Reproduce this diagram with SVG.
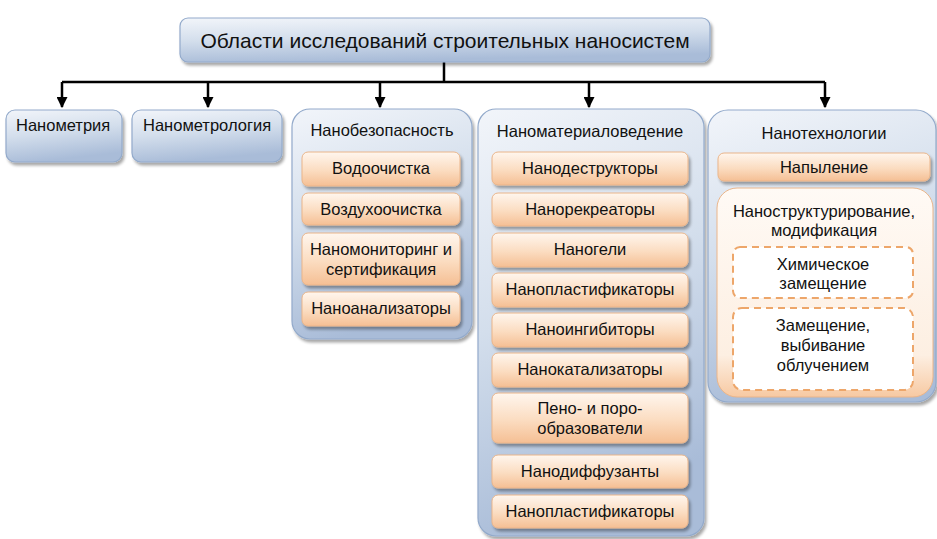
<svg xmlns="http://www.w3.org/2000/svg" width="937" height="539" viewBox="0 0 937 539">
<defs>
<linearGradient id="gb" x1="0" y1="0" x2="0.25" y2="1">
<stop offset="0" stop-color="#f2f5fa"/>
<stop offset="0.5" stop-color="#d3deec"/>
<stop offset="1" stop-color="#a9bcd8"/>
</linearGradient>
<linearGradient id="go" x1="0" y1="0" x2="0" y2="1">
<stop offset="0" stop-color="#fff6ee"/>
<stop offset="0.55" stop-color="#fbdcc0"/>
<stop offset="1" stop-color="#f5bf94"/>
</linearGradient>
<linearGradient id="gw" x1="0" y1="0" x2="0" y2="1">
<stop offset="0" stop-color="#fffaf5"/>
<stop offset="0.8" stop-color="#fdefe2"/>
<stop offset="1" stop-color="#f7c9a2"/>
</linearGradient>
<filter id="sh" x="-10%" y="-10%" width="130%" height="130%">
<feGaussianBlur in="SourceAlpha" stdDeviation="1.5"/>
<feOffset dx="1.5" dy="2.5" result="b"/>
<feComponentTransfer><feFuncA type="linear" slope="0.35"/></feComponentTransfer>
<feMerge><feMergeNode/><feMergeNode in="SourceGraphic"/></feMerge>
</filter>
<marker id="ar" viewBox="0 0 10 10" refX="9" refY="5" markerWidth="11" markerHeight="11" markerUnits="userSpaceOnUse" orient="auto">
<path d="M0,0 L10,5 L0,10 z" fill="#000"/>
</marker>
</defs>
<style>
.b{fill:url(#gb);stroke:#93aacb;stroke-width:1.2;filter:url(#sh)}
.o{fill:url(#go);stroke:#eab58a;stroke-width:1;filter:url(#sh)}
.w{fill:url(#gw);stroke:#eab58a;stroke-width:1}
.d{fill:#fff;stroke:#eda66a;stroke-width:2;stroke-dasharray:7,5}
text{font-family:"Liberation Sans",Arial,sans-serif;font-size:16.5px;fill:#111}
.c{text-anchor:middle}
.t{font-size:21px}
.ln{stroke:#000;stroke-width:2.5;fill:none}
</style>
<rect width="937" height="539" fill="#fff"/>
<g id="connectors">
<path class="ln" d="M444,62 V82 M62,82 H825"/>
<path class="ln" d="M62,82 V107" marker-end="url(#ar)"/>
<path class="ln" d="M208,82 V107" marker-end="url(#ar)"/>
<path class="ln" d="M380,82 V107" marker-end="url(#ar)"/>
<path class="ln" d="M589,82 V107" marker-end="url(#ar)"/>
<path class="ln" d="M825,82 V107" marker-end="url(#ar)"/>
</g>
<g id="root">
<rect class="b" x="180" y="18" width="530" height="44" rx="8"/>
<text class="c t" x="445" y="48">Области исследований строительных наносистем</text>
</g>
<g id="n1">
<rect class="b" x="6" y="110" width="116" height="52" rx="9"/>
<text x="16" y="131">Нанометрия</text>
</g>
<g id="n2">
<rect class="b" x="132" y="110" width="150" height="52" rx="9"/>
<text x="143" y="131">Нанометрология</text>
</g>
<g id="n3">
<rect class="b" x="292" y="109" width="180" height="230" rx="18"/>
<text class="c" x="382" y="136">Нанобезопасность</text>
<g id="n3a"><rect class="o" x="302" y="152" width="158" height="34" rx="6"/><text class="c" x="381" y="174">Водоочистка</text></g>
<g id="n3b"><rect class="o" x="302" y="193" width="158" height="32" rx="6"/><text class="c" x="381" y="215">Воздухоочистка</text></g>
<g id="n3c"><rect class="o" x="302" y="233" width="158" height="52" rx="6"/><text class="c" x="381" y="255">Наномониторинг и</text><text class="c" x="381" y="275">сертификация</text></g>
<g id="n3d"><rect class="o" x="302" y="292" width="158" height="34" rx="6"/><text class="c" x="381" y="314">Наноанализаторы</text></g>
</g>
<g id="n4">
<rect class="b" x="478" y="109" width="226" height="427" rx="18"/>
<text class="c" x="590" y="137">Наноматериаловедение</text>
<g id="n4a"><rect class="o" x="492" y="152" width="196" height="33" rx="6"/><text class="c" x="590" y="174">Нанодеструкторы</text></g>
<g id="n4b"><rect class="o" x="492" y="193" width="196" height="33" rx="6"/><text class="c" x="590" y="215">Нанорекреаторы</text></g>
<g id="n4c"><rect class="o" x="492" y="233" width="196" height="34" rx="6"/><text class="c" x="590" y="255">Наногели</text></g>
<g id="n4d"><rect class="o" x="492" y="273" width="196" height="34" rx="6"/><text class="c" x="590" y="295">Нанопластификаторы</text></g>
<g id="n4e"><rect class="o" x="492" y="313" width="196" height="34" rx="6"/><text class="c" x="590" y="335">Наноингибиторы</text></g>
<g id="n4f"><rect class="o" x="492" y="353" width="196" height="34" rx="6"/><text class="c" x="590" y="375">Нанокатализаторы</text></g>
<g id="n4g"><rect class="o" x="492" y="393" width="196" height="50" rx="6"/><text class="c" x="590" y="414">Пено- и поро-</text><text class="c" x="590" y="434">образователи</text></g>
<g id="n4h"><rect class="o" x="492" y="455" width="196" height="33" rx="6"/><text class="c" x="590" y="477">Нанодиффузанты</text></g>
<g id="n4i"><rect class="o" x="492" y="495" width="196" height="33" rx="6"/><text class="c" x="590" y="517">Нанопластификаторы</text></g>
</g>
<g id="n5">
<rect class="b" x="708" y="110" width="228" height="292" rx="20"/>
<text class="c" x="824" y="139">Нанотехнологии</text>
<g id="n5a"><rect class="o" x="718" y="153" width="212" height="28" rx="6"/><text class="c" x="824" y="173">Напыление</text></g>
<g id="n5b">
<rect class="w" x="717" y="188" width="216" height="209" rx="20"/>
<text class="c" x="824" y="217">Наноструктурирование,</text>
<text class="c" x="824" y="236">модификация</text>
<g id="n5c"><rect class="d" x="733" y="247" width="180" height="51" rx="7"/><text class="c" x="823" y="270">Химическое</text><text class="c" x="823" y="289">замещение</text></g>
<g id="n5d"><rect class="d" x="733" y="308" width="180" height="82" rx="9"/><text class="c" x="823" y="331">Замещение,</text><text class="c" x="823" y="351">выбивание</text><text class="c" x="823" y="371">облучением</text></g>
</g>
</g>
</svg>
